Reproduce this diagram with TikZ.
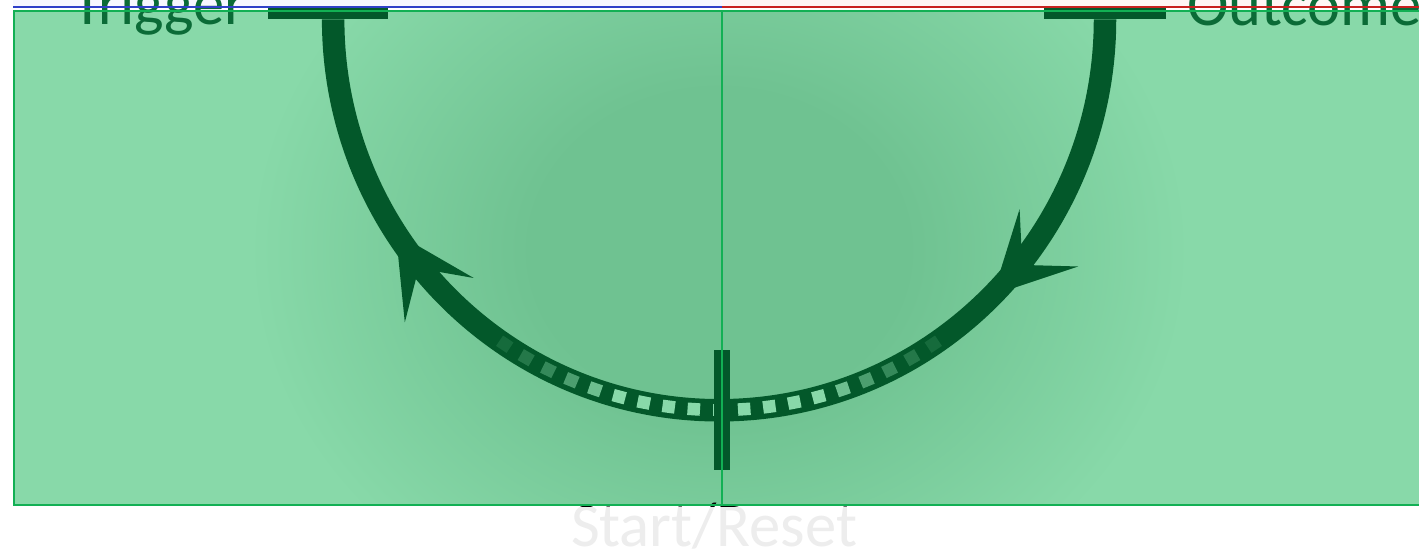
\documentclass[tikz,border=0pt]{standalone}
\usepackage{fontspec}
\setmainfont{Carlito}
\usetikzlibrary{arrows.meta, decorations.markings}
\definecolor{bggreen}{HTML}{88D9A9}
\definecolor{shgreen}{HTML}{6FC291}
\definecolor{rimgreen}{HTML}{12B054}
\definecolor{dkgreen}{HTML}{03582A}
\definecolor{txtgreen}{HTML}{0B6B37}
\definecolor{topblue}{HTML}{3040C8}
\definecolor{topred}{HTML}{C82020}
\pgfdeclareradialshading{glow}{\pgfpoint{0bp}{0bp}}{color(0bp)=(shgreen); color(10bp)=(shgreen); color(25bp)=(bggreen); color(50bp)=(bggreen)}
\tikzstyle{bar}=[fill=dkgreen, inner sep=0pt]
\tikzstyle{lbl}=[font=\fontsize{35.6}{40}\selectfont, inner sep=0pt]
\tikzstyle{sq}=[fill=bggreen, inner sep=0pt, minimum size=0.25cm]
\tikzstyle{rim}=[draw=rimgreen, line width=0.05cm]
\tikzstyle{flow}=[color=dkgreen, line width=0.45cm, postaction={decorate},
  decoration={markings,
    mark=at position 0.25 with {\arrow{Stealth[length=1.6cm, width=1.64cm, inset=0.76cm, line width=0pt]}},
    mark=at position 0.815 with {\arrow{Stealth[length=1.6cm, width=1.64cm, inset=0.76cm, line width=0pt]}}}]

\begin{document}
\begin{tikzpicture}[x=0.02cm, y=0.02cm]
  \clip (0,0) rectangle (1419,-553);
  % panels
  \fill[blue!3] (13,40) rectangle (722,-7);
  \fill[red!4] (722,40) rectangle (1440,-7);
  \fill[bggreen] (14,-11) rectangle (1440,-505);
  \begin{scope}
    \clip (14,-11) rectangle (1440,-505);
    \shade[shading=glow] (719,-250) ellipse (470 and 400);
  \end{scope}
  % cycle
  \node[bar, minimum width=2.4cm, minimum height=0.24cm] (lbar) at (328,-13) {};
  \node[bar, minimum width=2.44cm, minimum height=0.24cm] (rbar) at (1105,-13) {};
  \draw[flow] (rbar.south) arc[start angle=0, end angle=-180, x radius=7.72cm, y radius=7.82cm];
  \foreach \k/\op in {-9/.15,-8/.25,-7/.38,-6/.55,-5/.8,-4/1,-3/1,-2/1,-1/1,0/1,
                      1/1,2/1,3/1,4/1,5/.8,6/.55,7/.38,8/.25,9/.15}
    \node[sq, opacity=\op, rotate={\k*3.746}] (d\k)
      at ({719+386*cos(-90+\k*3.746)}, {-19+391*sin(-90+\k*3.746)}) {};
  \node[bar, minimum width=0.32cm, minimum height=2.4cm] (rtick) at (722,-410) {};
  % labels
  \node[lbl, text=txtgreen, anchor=base east] (trigger) at (247,-25) {Trigger};
  \node[lbl, text=txtgreen, anchor=base west] (outcome) at (1187,-26) {Outcome};
  \node[lbl, anchor=base] (reset) at (714,-546) {Start/Reset};
  \fill[white, opacity=0.93] (0,-507) rectangle (1419,-560);
  % borders
  \draw[topblue, line width=0.03cm] (13,-7) -- (722,-7);
  \draw[topred, line width=0.03cm] (722,-7) -- (1440,-7);
  \draw[rim] (14,-11) rectangle (722,-505);
  \draw[rim] (722,-11) rectangle (1440,-505);
\end{tikzpicture}
\end{document}
